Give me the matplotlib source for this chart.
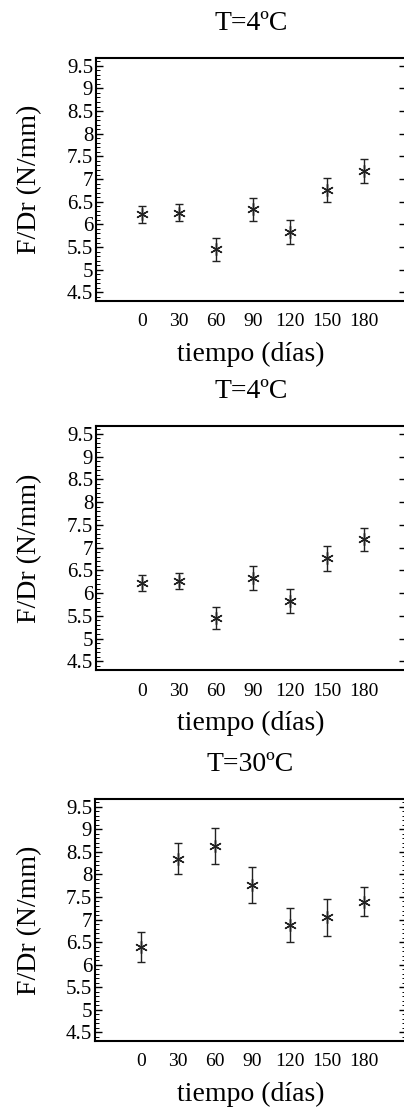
import numpy as np
import matplotlib
matplotlib.use("Agg")
import matplotlib.pyplot as plt
from matplotlib.ticker import MultipleLocator

plt.rcParams['font.family'] = ['Liberation Serif', 'DejaVu Serif']

# datos
dias = [0, 30, 60, 90, 120, 150, 180]
fdr_4c = [6.22, 6.26, 5.45, 6.33, 5.83, 6.76, 7.18]
err_4c = [0.18, 0.18, 0.25, 0.26, 0.26, 0.27, 0.26]
fdr_30c = [6.39, 8.35, 8.63, 7.76, 6.88, 7.05, 7.39]
err_30c = [0.34, 0.34, 0.39, 0.40, 0.37, 0.41, 0.32]
titulos = ['T=4ºC', 'T=4ºC', 'T=30ºC']
series = [(fdr_4c, err_4c), (fdr_4c, err_4c), (fdr_30c, err_30c)]
yticks = [4.5, 5, 5.5, 6, 6.5, 7, 7.5, 8, 8.5, 9, 9.5]
ytick_labels = ['4.5', '5', '5.5', '6', '6.5', '7', '7.5', '8', '8.5', '9', '9.5']

W, H = 404, 1108
fig = plt.figure(figsize=(W / 100, H / 100), dpi=100)

# posicion de cada panel en pixeles: izquierda, arriba, abajo
paneles = [(96, 58, 301), (96, 426, 670), (95, 799, 1041)]
col = '#222222'

for k, (left, top, bottom) in enumerate(paneles):
    ancho = 406 - left
    ax = fig.add_axes([left / W, 1 - bottom / H, ancho / W, (bottom - top) / H])
    y, e = series[k]
    ax.errorbar(dias, y, yerr=e, fmt='none', ecolor=col, elinewidth=1.0,
                capsize=3.2, capthick=1.0)
    ax.plot(dias, y, linestyle='none', marker=(6, 2, 0), markersize=9,
            markeredgewidth=1.0, color=col)
    ax.set_xlim(-37, 214)
    ax.set_ylim(4.31, 9.67)
    ax.set_xticks(dias)
    ax.set_xticklabels([str(d) for d in dias])
    ax.set_yticks(yticks)
    ax.set_yticklabels(ytick_labels)
    ax.yaxis.set_minor_locator(MultipleLocator(0.1))
    ax.tick_params(axis='x', length=0, pad=9, labelsize=14)
    ax.tick_params(axis='y', which='major', direction='in', length=5, width=1.0,
                   pad=2, labelsize=15, right=True)
    ax.tick_params(axis='y', which='minor', direction='in', length=3, width=0.7,
                   left=True, right=(k == 2))
    for s in ['left', 'bottom', 'top']:
        ax.spines[s].set_linewidth(1.5)
    ax.spines['right'].set_linewidth(1.0)
    ax.set_title(titulos[k], fontsize=20, pad=20)
    ax.set_xlabel('tiempo (días)', fontsize=20, labelpad=8)
    ax.set_ylabel('F/Dr (N/mm)', fontsize=20)
    ax.yaxis.set_label_coords((42 - left) / ancho, 0.5)

fig.savefig('out.png', dpi=100)
